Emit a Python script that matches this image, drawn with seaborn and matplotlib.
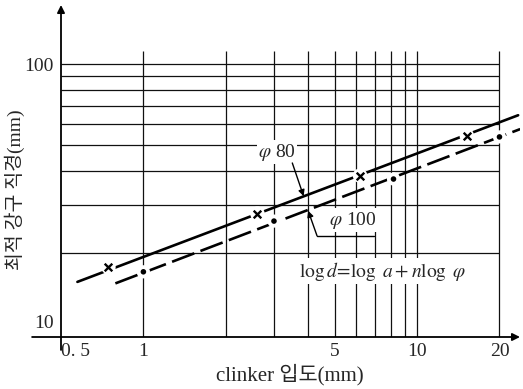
import numpy as np
import pandas as pd
import matplotlib
matplotlib.use('Agg')
import matplotlib.pyplot as plt
import seaborn as sns
from matplotlib.transforms import ScaledTranslation

# ---- data ----
phi80_size = [0.745, 2.61, 6.19, 15.2]
phi80_ball = [17.7, 27.9, 38.6, 54.2]
phi100_size = [1.0, 3.0, 8.2, 20.0]
phi100_ball = [17.0, 26.2, 37.5, 53.7]
phi80_fit_x = [0.574, 23.4]
phi80_fit_y = [15.6, 64.6]
phi100_fit_x = [0.79, 23.8]
phi100_fit_y = [15.4, 57.4]
grid_x = [1, 2, 3, 4, 5, 6, 7, 8, 9, 10, 20]
grid_y = [20, 30, 40, 50, 60, 70, 80, 90, 100]
xtick_vals = [0.5, 1, 5, 10, 20]
xtick_labels = ['0. 5', '1', '5', '10', '20']
ytick_vals = [10, 100]
ytick_labels = ['10', '100']

sns.set_theme(style='white')
plt.rcParams['font.family'] = ['Liberation Serif', 'Noto Sans CJK KR', 'DejaVu Sans']
plt.rcParams['mathtext.fontset'] = 'stix'

fig = plt.figure(figsize=(5.23, 3.89), dpi=100)
ax = fig.add_axes([61 / 523, 1 - 337 / 389, 459 / 523, 332 / 389])
ax.set_xscale('log')
ax.set_yscale('log')

# grid
ax.vlines(grid_x, 9.75, 112, color='#111111', lw=0.9, zorder=1)
ax.hlines(grid_y, 0.5, 20, color='#111111', lw=0.9, zorder=1)

# fitted lines
sns.lineplot(x=phi80_fit_x, y=phi80_fit_y, ax=ax, color='black', lw=1.9, zorder=2)
sns.lineplot(x=phi100_fit_x, y=phi100_fit_y, ax=ax, color='black', lw=1.9,
             linestyle=(0, (9, 2.5)), zorder=2)

# white halos around markers (line breaks)
sns.scatterplot(x=phi80_size, y=phi80_ball, ax=ax, s=110, color='white',
                edgecolor='none', zorder=3)
sns.scatterplot(x=phi100_size, y=phi100_ball, ax=ax, s=90, color='white',
                edgecolor='none', zorder=3)
# markers
sns.scatterplot(x=phi80_size, y=phi80_ball, ax=ax, marker='x', s=30,
                color='black', linewidth=1.7, zorder=4)
sns.scatterplot(x=phi100_size, y=phi100_ball, ax=ax, marker='o', s=16,
                color='black', edgecolor='none', zorder=4)

ax.set_xlim(0.5, 23.77)
ax.set_ylim(9.75, 165.4)
ax.minorticks_off()
ax.set_xticks(xtick_vals)
ax.set_xticklabels(xtick_labels, fontsize=14)
ax.set_yticks(ytick_vals)
ax.set_yticklabels(ytick_labels, fontsize=14)
ax.tick_params(axis='both', length=0)
ax.tick_params(axis='x', pad=4)
ax.tick_params(axis='y', pad=5)
ax.get_xticklabels()[0].set_ha('left')
lab10 = ax.get_yticklabels()[0]
lab10.set_transform(lab10.get_transform() + ScaledTranslation(0, 9 / 72, fig.dpi_scale_trans))
for s in ax.spines.values():
    s.set_visible(False)

# axes with arrows
ax.annotate('', xy=(1.0, 0), xytext=(-0.063, 0), xycoords='axes fraction',
            arrowprops=dict(arrowstyle='-|>', color='black', lw=1.3, mutation_scale=11,
                            shrinkA=0, shrinkB=0))
ax.annotate('', xy=(0, 1.0), xytext=(0, -0.039), xycoords='axes fraction',
            arrowprops=dict(arrowstyle='-|>', color='black', lw=1.3, mutation_scale=11,
                            shrinkA=0, shrinkB=0))

# labels on lines
bb = dict(facecolor='white', edgecolor='none', pad=1.0)
ax.text(3.08, 47.2, r'$\varphi$ 80', ha='center', va='center', fontsize=14, bbox=bb, zorder=5)
ax.annotate('', xy=(3.85, 32.4), xytext=(3.5, 43.0),
            arrowprops=dict(arrowstyle='-|>', color='black', lw=1.0, mutation_scale=9,
                            shrinkA=0, shrinkB=0), zorder=5)
ax.text(5.84, 26.4, r'$\varphi$ 100', ha='center', va='center', fontsize=14, bbox=bb, zorder=5)
ax.plot([6.95, 4.31], [23.1, 23.1], color='black', lw=1.0, zorder=5)
ax.annotate('', xy=(4.0, 28.6), xytext=(4.31, 23.1),
            arrowprops=dict(arrowstyle='-|>', color='black', lw=1.0, mutation_scale=9,
                            shrinkA=0, shrinkB=0), zorder=5)
ax.text(7.5, 17.1, r'$\log d\!=\!\log\ a+n\log\ \varphi$', ha='center', va='center',
        fontsize=14, bbox=bb, zorder=5)

fig.text(290 / 523, 1 - 375 / 389, 'clinker 입도(mm)', ha='center', va='center', fontsize=15)
fig.text(15 / 523, 1 - 190 / 389, '최적 강구 직경(mm)', ha='center', va='center',
         rotation=90, fontsize=14)

fig.savefig('out.png', dpi=100)
